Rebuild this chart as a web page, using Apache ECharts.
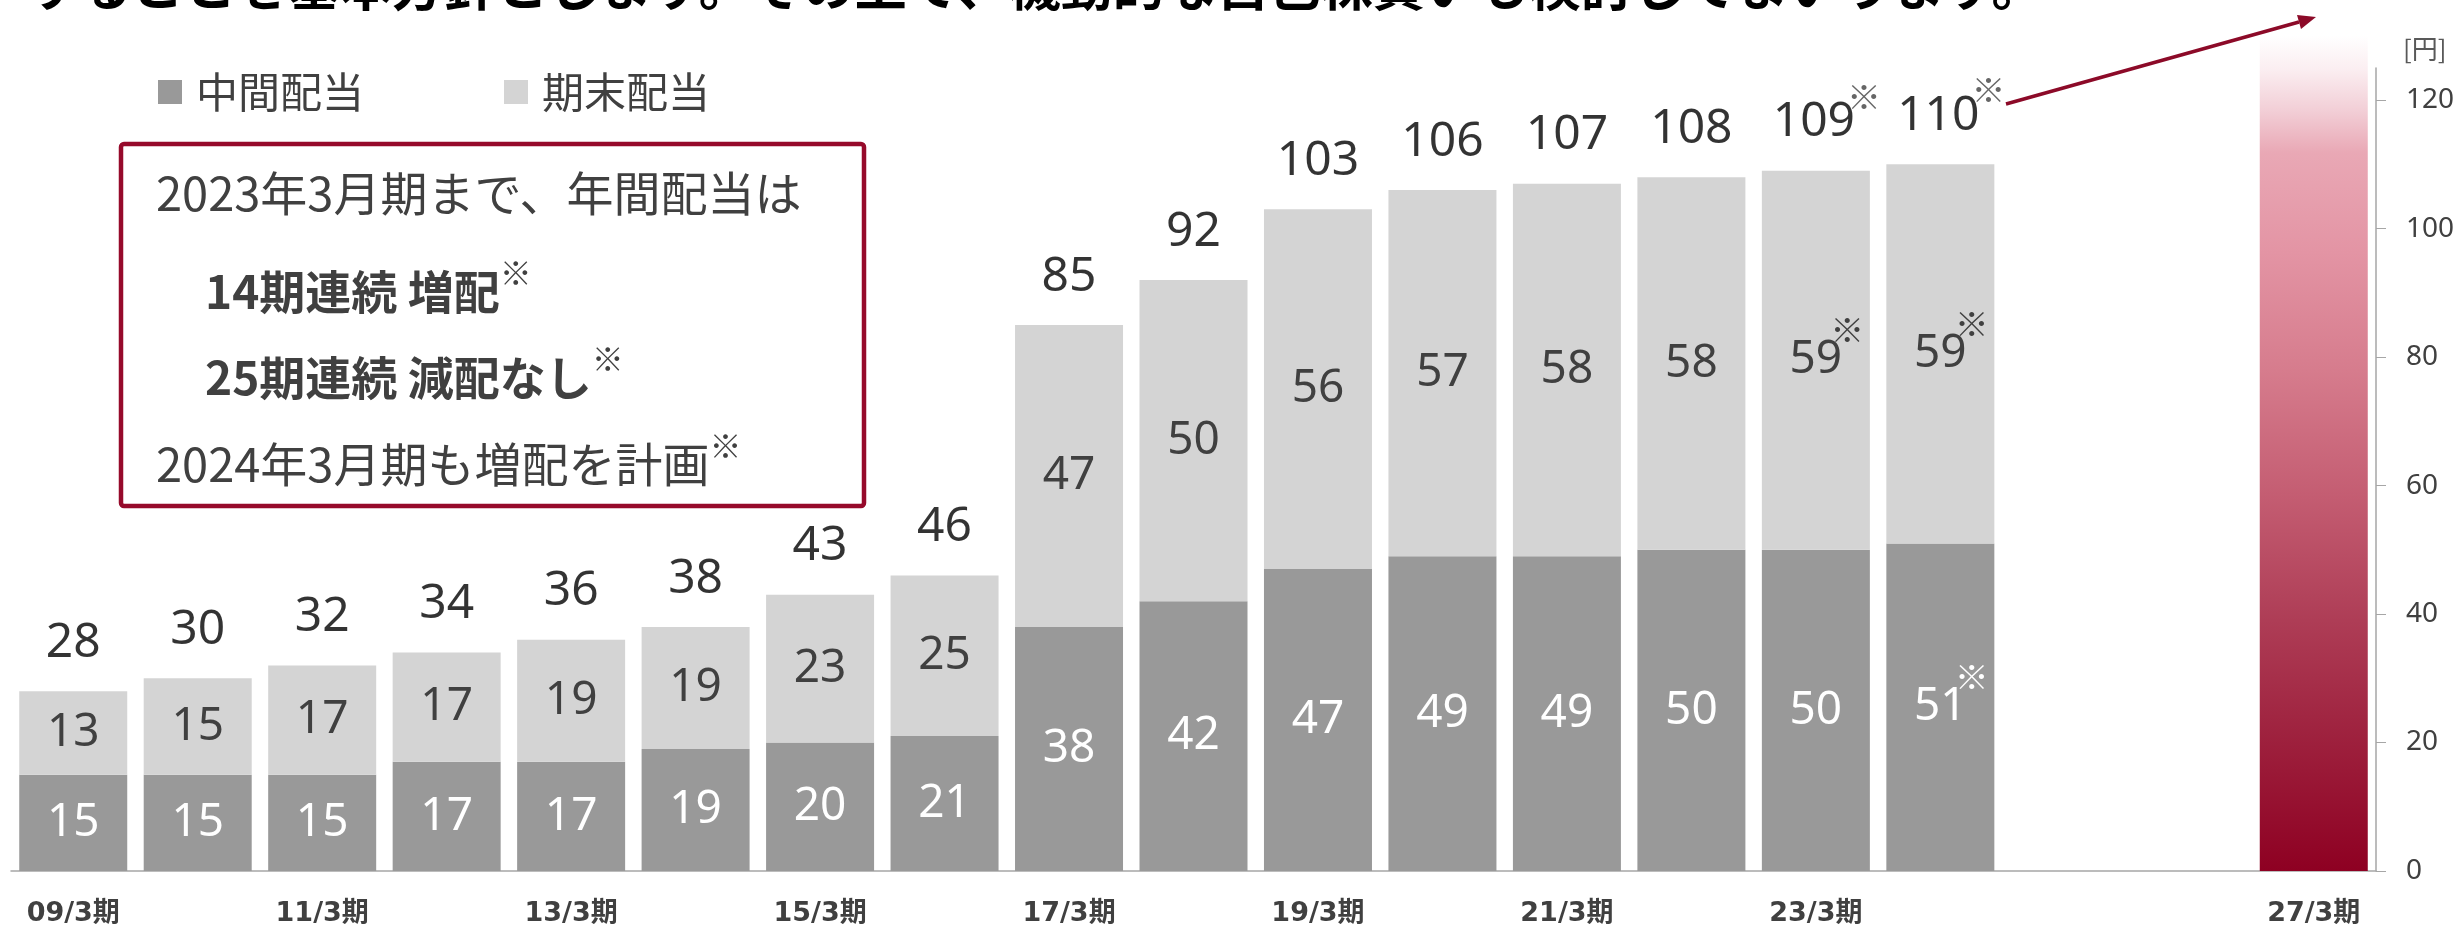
<!DOCTYPE html>
<html>
<head>
<meta charset="utf-8">
<script src="https://cdn.jsdelivr.net/npm/echarts@6/dist/echarts.min.js"></script>
<style>
html, body { margin: 0; padding: 0; background: #fff; }
#main { width: 2458px; height: 929px; }
</style>
</head>
<body>
<div id="main"></div>
<script>
// data
var categories = ['09/3期', '10/3期', '11/3期', '12/3期', '13/3期', '14/3期', '15/3期', '16/3期', '17/3期',
    '18/3期', '19/3期', '20/3期', '21/3期', '22/3期', '23/3期', '24/3期', '25/3期', '26/3期', '27/3期'];
var shownLabels = ['09/3期', '11/3期', '13/3期', '15/3期', '17/3期', '19/3期', '21/3期', '23/3期', '27/3期'];
var interim = [15, 15, 15, 17, 17, 19, 20, 21, 38, 42, 47, 49, 49, 50, 50, 51, null, null, null];
var yearEnd = [13, 15, 17, 17, 19, 19, 23, 25, 47, 50, 56, 57, 58, 58, 59, 59, null, null, null];
var totals = [28, 30, 32, 34, 36, 38, 43, 46, 85, 92, 103, 106, 107, 108, 109, 110, null, null, null];
var target = [null, null, null, null, null, null, null, null, null, null, null, null, null, null, null, null, null, null, 130];
var starTotal = [14, 15];      // indices whose total / 期末 carry ※
var starInterim = [15];        // indices whose 中間 carries ※
var yTicks = [0, 20, 40, 60, 80, 100, 120];

var boxLines = [
    '{n|2023年3月期まで、年間配当は}',
    '{b|14期連続 増配}{s|※}',
    '{b|25期連続 減配なし}{s|※}',
    '{n|2024年3月期も増配を計画}{s|※}'
];
var titleText = 'することを基本方針とします。その上で、機動的な自己株買いも検討してまいります。';

var NUM = "'Noto Sans', 'Noto Sans CJK JP', sans-serif";
var JP = "'Noto Sans CJK JP', sans-serif";

var myChart = echarts.init(document.getElementById('main'));

function starLabel(list, key) {
    return function (p) {
        if (p.value == null) return '';
        if (list.indexOf(p.dataIndex) >= 0) return '{' + key + 's|' + p.value + '}{s|※}';
        return '{' + key + '|' + p.value + '}';
    };
}

function innerRich(key, color) {
    var r = {};
    r[key] = { fontSize: 46, color: color, fontFamily: NUM };
    r[key + 's'] = { fontSize: 46, color: color, fontFamily: NUM, lineHeight: 54, padding: [0, 0, 0, 22] };
    r.s = { fontSize: 34, color: color, fontFamily: JP, verticalAlign: 'top', lineHeight: 34, padding: [-20, 0, 0, -12] };
    return r;
}

var boxText = boxLines.map(function (t, i) {
    return {
        type: 'text',
        left: (i === 1 || i === 2) ? 205 : 156,
        top: 170 + i * 86.5,
        z: 20,
        style: {
            text: t,
            fill: '#404040',
            rich: {
                n: { fontSize: 47, fontFamily: JP, color: '#404040', lineHeight: 58, verticalAlign: 'bottom' },
                b: { fontSize: 46, fontFamily: JP, fontWeight: 'bold', color: '#404040', lineHeight: 58, verticalAlign: 'bottom' },
                s: { fontSize: 32, fontFamily: JP, color: '#404040', lineHeight: 34, verticalAlign: 'top' }
            }
        }
    };
});

var option = {
    animation: false,
    backgroundColor: '#fff',
    grid: { left: 11, right: 82, top: 68, bottom: 58 },
    legend: {
        data: ['中間配当', '期末配当'],
        left: 153,
        top: 66,
        icon: 'rect',
        itemWidth: 24,
        itemHeight: 24,
        itemGap: 140,
        textStyle: { fontSize: 42, color: '#404040', fontFamily: JP, padding: [0, 0, 0, 9] }
    },
    xAxis: {
        type: 'category',
        data: categories,
        axisLine: { lineStyle: { color: '#A6A6A6', width: 1.5 } },
        axisTick: { interval: 0, length: 9, lineStyle: { color: '#A6A6A6' } },
        axisLabel: {
            interval: function (idx, value) { return shownLabels.indexOf(value) >= 0; },
            margin: 29,
            fontSize: 27,
            fontWeight: 'bold',
            color: '#404040',
            fontFamily: "'DejaVu Sans', 'Noto Sans CJK JP', sans-serif"
        }
    },
    yAxis: {
        type: 'value',
        position: 'right',
        min: 0,
        max: 125,
        interval: 20,
        name: '[円]',
        nameLocation: 'end',
        nameGap: 6,
        nameTextStyle: { fontSize: 26, color: '#595959', fontFamily: JP, align: 'left', padding: [0, 0, 0, 27] },
        splitLine: { show: false },
        axisLine: { show: true, lineStyle: { color: '#A6A6A6', width: 1.5 } },
        axisTick: { show: true, length: 10, customValues: yTicks, lineStyle: { color: '#A6A6A6' } },
        axisLabel: { customValues: yTicks, margin: 30, fontSize: 28, color: '#404040', fontFamily: NUM }
    },
    series: [{
        name: '中間配当',
        type: 'bar',
        stack: 'div',
        barWidth: 108,
        data: interim,
        itemStyle: { color: '#999999' },
        label: {
            show: true,
            position: 'inside',
            formatter: starLabel(starInterim, 'w'),
            rich: innerRich('w', '#fff')
        }
    }, {
        name: '期末配当',
        type: 'bar',
        stack: 'div',
        barWidth: 108,
        data: yearEnd,
        itemStyle: { color: '#D4D4D4' },
        label: {
            show: true,
            position: 'inside',
            formatter: starLabel(starTotal, 'g'),
            rich: innerRich('g', '#404040')
        }
    }, {
        name: '目標',
        type: 'bar',
        stack: 'div',
        barWidth: 107,
        clip: false,
        data: target,
        itemStyle: {
            color: new echarts.graphic.LinearGradient(0, 0, 0, 1, [
                { offset: 0, color: '#FFFFFF' },
                { offset: 0.04, color: '#FBEEF1' },
                { offset: 0.09, color: '#F2CED6' },
                { offset: 0.14, color: '#E9A8B5' },
                { offset: 0.26, color: '#E394A4' },
                { offset: 0.40, color: '#D67C8D' },
                { offset: 0.55, color: '#C45D72' },
                { offset: 0.70, color: '#AE3D56' },
                { offset: 0.85, color: '#9D1F3C' },
                { offset: 1, color: '#8E0022' }
            ])
        }
    }, {
        name: '合計',
        type: 'scatter',
        data: totals,
        symbolSize: 0,
        z: 10,
        label: {
            show: true,
            position: 'top',
            distance: 24,
            formatter: starLabel(starTotal, 't'),
            rich: {
                t: { fontSize: 48, color: '#000', fontFamily: NUM, lineHeight: 52, verticalAlign: 'bottom' },
                ts: { fontSize: 48, color: '#000', fontFamily: NUM, lineHeight: 52, verticalAlign: 'bottom', padding: [0, 0, 0, 22] },
                s: { fontSize: 34, color: '#404040', fontFamily: JP, lineHeight: 34, verticalAlign: 'top', padding: [-15, 0, 0, -8] }
            }
        }
    }],
    graphic: [{
        type: 'text',
        left: 28,
        top: -40,
        style: { text: titleText, fill: '#000', font: "bold 52px 'Noto Sans CJK JP'" }
    }, {
        type: 'rect',
        shape: { x: 121, y: 144, width: 743, height: 362, r: 3 },
        style: { fill: '#fff', stroke: '#960A2B', lineWidth: 4.5 },
        z: 15
    }, {
        type: 'line',
        shape: { x1: 2006, y1: 104, x2: 2299, y2: 22 },
        style: { stroke: '#8C0A28', lineWidth: 3.5 },
        z: 15
    }, {
        type: 'polygon',
        shape: { points: [[2316, 17], [2301, 29], [2297, 15]] },
        style: { fill: '#8C0A28' },
        z: 15
    }].concat(boxText)
};
myChart.setOption(option);
</script>
</body>
</html>
